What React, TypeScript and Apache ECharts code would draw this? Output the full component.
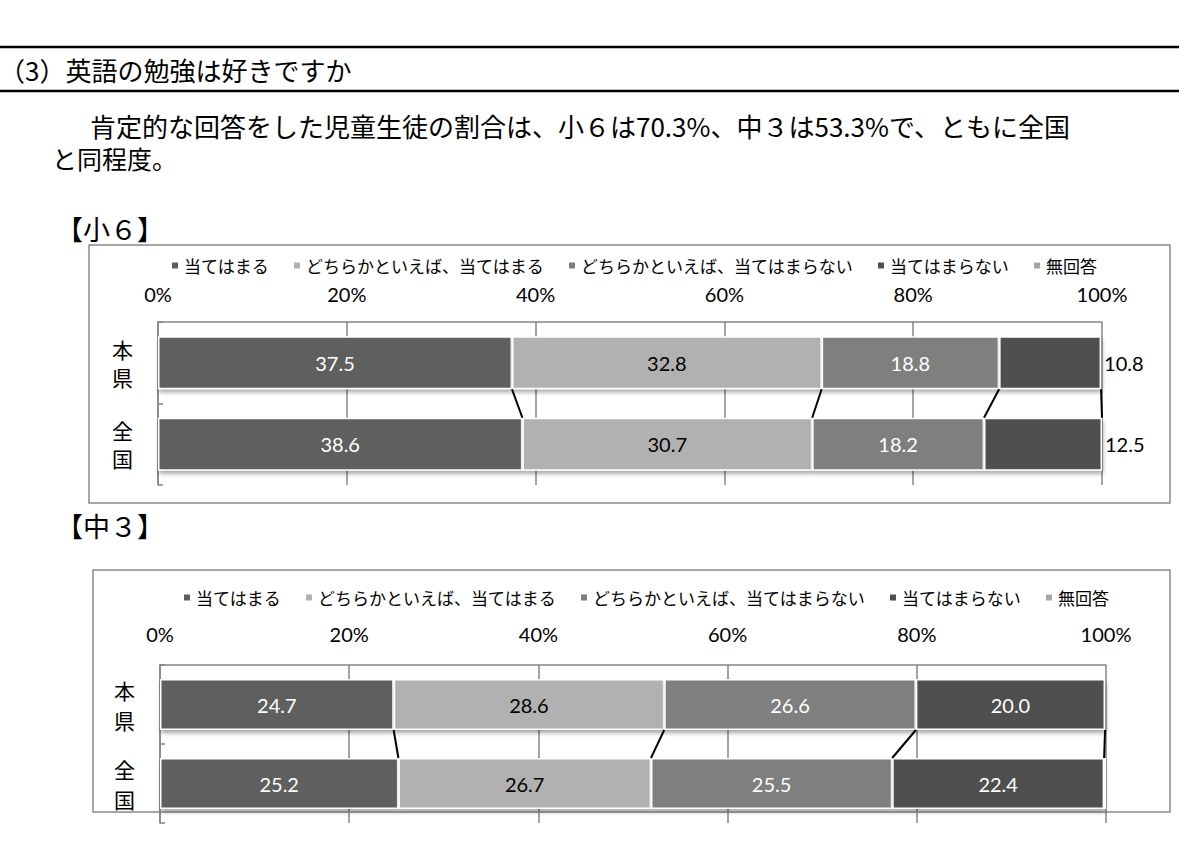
import React, { useEffect, useRef } from "react";
import * as echarts from "echarts";

// ---- data ----
const seriesNames = [
  "当てはまる",
  "どちらかといえば、当てはまる",
  "どちらかといえば、当てはまらない",
  "当てはまらない",
  "無回答",
];
const categories = ["本県", "全国"];
const sho6Honken = [37.5, 32.8, 18.8, 10.8, 0.1];
const sho6Zenkoku = [38.6, 30.7, 18.2, 12.5, 0.0];
const chu3Honken = [24.7, 28.6, 26.6, 20.0, 0.1];
const chu3Zenkoku = [25.2, 26.7, 25.5, 22.4, 0.2];

const headingText = "（3）英語の勉強は好きですか";
const bodyLine1 = "肯定的な回答をした児童生徒の割合は、小６は70.3%、中３は53.3%で、ともに全国";
const bodyLine2 = "と同程度。";
const sub1 = "【小６】";
const sub2 = "【中３】";

// ---- styles ----
const colors = ["#5f5f5f", "#b1b1b1", "#7f7f7f", "#505050", "#a6a6a6"];
const JP = "'Noto Sans CJK JP', 'Noto Sans', sans-serif";
const NUM = "Lato, 'Open Sans', sans-serif";

function boundaries(a: number[], b: number[]) {
  const out: number[][] = [];
  let s1 = 0;
  let s2 = 0;
  for (let i = 0; i < 4; i++) {
    s1 += a[i];
    s2 += b[i];
    out.push([+s1.toFixed(1), +s2.toFixed(1), 0]);
  }
  return out;
}

function buildSeries(
  rows: number[][],
  gi: number,
  barWidth: number,
  labelColors: (string | null)[],
  outsideLast: boolean
) {
  const list: any[] = seriesNames.map((name, i) => {
    const lc = labelColors[i];
    const isOut = outsideLast && i === 3;
    return {
      name,
      type: "bar",
      stack: "s" + gi,
      xAxisIndex: gi,
      yAxisIndex: gi,
      barWidth,
      data: rows.map((r) => r[i]),
      itemStyle: {
        color: colors[i],
        borderColor: "#ffffff",
        borderWidth: 1.5,
        shadowBlur: 4,
        shadowOffsetY: 3,
        shadowOffsetX: 1,
        shadowColor: "rgba(0,0,0,0.35)",
      },
      label: {
        show: lc !== null,
        position: isOut ? "right" : "inside",
        distance: 3,
        color: lc || "#000",
        fontSize: 20,
        fontFamily: NUM,
        formatter: (p: any) => Number(p.value).toFixed(1),
      },
      emphasis: { disabled: true },
    };
  });
  const bw = barWidth;
  list.push({
    type: "custom",
    coordinateSystem: "cartesian2d",
    xAxisIndex: gi,
    yAxisIndex: gi,
    encode: { x: [0, 1], y: 2 },
    data: boundaries(rows[0], rows[1]),
    silent: true,
    z: 5,
    renderItem: (params: any, api: any) => {
      const a = api.coord([api.value(0), 0]);
      const b = api.coord([api.value(1), 1]);
      return {
        type: "line",
        shape: { x1: a[0], y1: a[1] + bw / 2, x2: b[0], y2: b[1] - bw / 2 },
        style: { stroke: "#000", lineWidth: 2 },
      };
    },
  });
  return list;
}

function xAxisCfg(gi: number, margin: number) {
  return {
    type: "value",
    gridIndex: gi,
    position: "top",
    min: 0,
    max: 100,
    interval: 20,
    axisLine: { show: true, lineStyle: { color: "#868686", width: 1.5 } },
    axisTick: { show: false },
    splitLine: { show: true, lineStyle: { color: "#868686", width: 1.5 } },
    axisLabel: {
      formatter: "{value}%",
      color: "#000",
      fontSize: 20,
      fontFamily: NUM,
      margin,
    },
  };
}

function yAxisCfg(gi: number, lineHeight: number) {
  return {
    type: "category",
    gridIndex: gi,
    data: categories,
    inverse: true,
    axisLine: { show: true, lineStyle: { color: "#868686", width: 1.5 } },
    axisTick: { show: true, inside: true, length: 5, lineStyle: { color: "#868686", width: 1.5 } },
    axisLabel: {
      formatter: (v: string) => v.split("").join("\n"),
      color: "#000",
      fontSize: 21,
      lineHeight,
      fontFamily: JP,
      margin: 25,
    },
  };
}

function legendCfg(left: number, top: number) {
  return {
    data: seriesNames,
    left,
    top,
    padding: 0,
    icon: "rect",
    itemWidth: 8,
    itemHeight: 8,
    itemGap: 23,
    selectedMode: false,
    textStyle: { fontSize: 17, fontFamily: JP, color: "#000" },
  };
}

export default function App() {
  const ref = useRef<HTMLDivElement>(null);
  useEffect(() => {
    if (!ref.current) return;
    const chart = echarts.init(ref.current, undefined, { renderer: "svg" });
    const option: any = {
      animation: false,
      backgroundColor: "#ffffff",
      textStyle: { fontFamily: JP },
      legend: [legendCfg(170, 257), legendCfg(182, 589)],
      grid: [
        { left: 158, top: 322, width: 944, height: 163 },
        { left: 160, top: 665, width: 946, height: 158 },
      ],
      xAxis: [xAxisCfg(0, 18), xAxisCfg(1, 21)],
      yAxis: [yAxisCfg(0, 28), yAxisCfg(1, 30)],
      series: [
        ...buildSeries([sho6Honken, sho6Zenkoku], 0, 53, ["#fff", "#000", "#fff", "#000", null], true),
        ...buildSeries([chu3Honken, chu3Zenkoku], 1, 51, ["#fff", "#000", "#fff", "#fff", null], false),
      ],
      graphic: [
        { type: "line", silent: true, shape: { x1: 0, y1: 47, x2: 1179, y2: 47 }, style: { stroke: "#000", lineWidth: 2.5 } },
        { type: "line", silent: true, shape: { x1: 0, y1: 91, x2: 1179, y2: 91 }, style: { stroke: "#000", lineWidth: 2.5 } },
        {
          type: "text",
          silent: true,
          x: -1,
          y: 69,
          style: { text: headingText, fontSize: 26, fontFamily: JP, fill: "#000", verticalAlign: "middle" },
        },
        {
          type: "text",
          silent: true,
          x: 90,
          y: 125,
          style: { text: bodyLine1, fontSize: 26, fontFamily: JP, fill: "#000", verticalAlign: "middle" },
        },
        {
          type: "text",
          silent: true,
          x: 52,
          y: 158,
          style: { text: bodyLine2, fontSize: 25, fontFamily: JP, fill: "#000", verticalAlign: "middle" },
        },
        {
          type: "text",
          silent: true,
          x: 56,
          y: 228,
          style: { text: sub1, fontSize: 27, fontFamily: JP, fill: "#000", verticalAlign: "middle" },
        },
        {
          type: "text",
          silent: true,
          x: 56,
          y: 525,
          style: { text: sub2, fontSize: 27, fontFamily: JP, fill: "#000", verticalAlign: "middle" },
        },
        {
          type: "rect",
          silent: true,
          z: -1,
          shape: { x: 89, y: 245, width: 1081, height: 258 },
          style: { fill: "rgba(0,0,0,0)", stroke: "#8a8a8a", lineWidth: 1.5 },
        },
        {
          type: "rect",
          silent: true,
          z: -1,
          shape: { x: 93, y: 570, width: 1077, height: 242 },
          style: { fill: "rgba(0,0,0,0)", stroke: "#8a8a8a", lineWidth: 1.5 },
        },
      ],
    };
    chart.setOption(option);
    return () => chart.dispose();
  }, []);
  return (
    <div
      ref={ref}
      style={{ position: "fixed", left: 0, top: 0, width: 1179, height: 864, background: "#fff" }}
    />
  );
}
